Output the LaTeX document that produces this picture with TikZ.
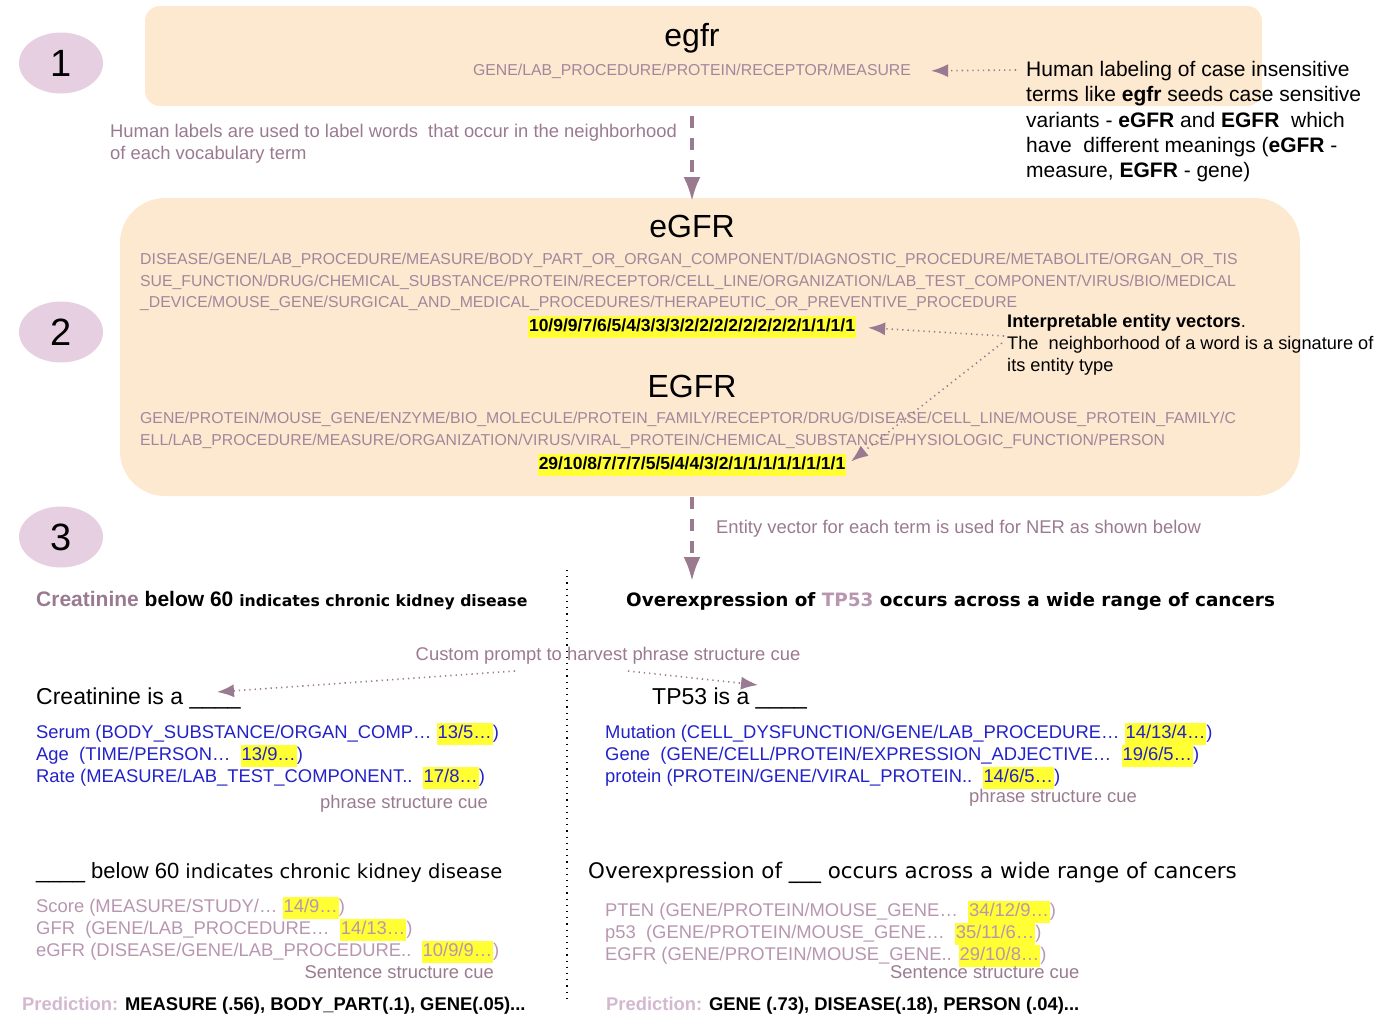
\documentclass[tikz,border=0pt]{standalone}
\usepackage{fontspec}
\setmainfont{Liberation Sans}
\newfontfamily\verdana{DejaVu Sans}
\usetikzlibrary{arrows.meta,positioning,shapes.geometric}

\definecolor{peach}{HTML}{FDE8D0}
\definecolor{lilac}{HTML}{E6CFE1}
\definecolor{mauve}{HTML}{9A7A90}
\definecolor{typegray}{HTML}{A4869C}
\definecolor{cueblue}{HTML}{2222C8}
\definecolor{softpink}{HTML}{B896B0}
\definecolor{palepink}{HTML}{D3B8CF}
\definecolor{hlyellow}{HTML}{FFFF33}

\newcommand{\pxsize}[2]{\fontsize{#1pt}{#2pt}\selectfont}
\newcommand{\hl}[1]{{\setlength{\fboxsep}{1pt}\colorbox{hlyellow}{\strut#1}}}

\tikzset{
  stagebox/.style={fill=peach, draw=none, inner sep=0, rounded corners=#1},
  stagenum/.style={ellipse, fill=lilac, minimum width=84pt, minimum height=61pt, inner sep=0, font=\pxsize{38}{40}},
  bigterm/.style={font=\pxsize{32}{34}, inner sep=0},
  typeline/.style={text=typegray, font=\pxsize{15.8}{18}, inner sep=0, anchor=west},
  note/.style={text=mauve, font=\pxsize{18.4}{22}, inner sep=0, anchor=west, align=left},
  vecnum/.style={font=\pxsize{17.5}{20}\bfseries, inner sep=0},
  cueline/.style={font=\pxsize{18.4}{20}, inner sep=0, anchor=west},
  blank/.style={font=\pxsize{23}{25}, inner sep=0, anchor=west},
  dotarrow/.style={mauve, line width=1.6pt, dash pattern=on 1.3pt off 4pt, -{Latex[length=17pt,width=13pt]}},
  dasharrow/.style={mauve, line width=3.5pt, dash pattern=on 12pt off 10pt, -{Latex[length=24pt,width=17pt]}},
}

\begin{document}
\begin{tikzpicture}[x=1pt,y=-1pt]
  \useasboundingbox (0,0) rectangle (1400,1031);

  % stage boxes
  \node[stagebox=15pt, minimum width=1117pt, minimum height=100pt] (box1) at (703.5,56) {};
  \node[stagebox=45pt, minimum width=1180pt, minimum height=298pt] (box2) at (710,347) {};

  \foreach \n/\y in {1/63, 2/332, 3/537} {
    \node[stagenum] (stage\n) at (61,\y) {\n};
  }

  % stage 1
  \node[bigterm] (egfr) at (692,38) {egfr};
  \node[typeline, anchor=center] (egfrtypes) at (692,71) {GENE/LAB\_PROCEDURE/PROTEIN/RECEPTOR/MEASURE};
  \node[font=\pxsize{21}{25.3}, inner sep=0, anchor=north west, align=left] (seednote) at (1026,61)
    {Human labeling of case insensitive\\
     terms like \textbf{egfr} seeds case sensitive\\
     variants - \textbf{eGFR} and \textbf{EGFR}\ \ which\\
     have\ \ different meanings (\textbf{eGFR} -\\
     measure, \textbf{EGFR} - gene)};
  \coordinate (seedfrom) at (1016,70);
  \draw[dotarrow, shorten >=20pt] (seedfrom) -- (egfrtypes.east);

  \node[note, anchor=north west] (labelnote) at (110,124)
    {Human labels are used to label words\ \ that occur in the neighborhood\\of each vocabulary term};
  \coordinate (down1) at (692,116);
  \coordinate (down1end) at (692,201);
  \draw[dasharrow] (down1) -- (down1end);

  % stage 2
  \node[bigterm] (eGFR) at (692,226) {eGFR};
  \node[typeline] (eGFRa) at (140,260) {DISEASE/GENE/LAB\_PROCEDURE/MEASURE/BODY\_PART\_OR\_ORGAN\_COMPONENT/DIAGNOSTIC\_PROCEDURE/METABOLITE/ORGAN\_OR\_TIS};
  \node[typeline] (eGFRb) at (140,282) {SUE\_FUNCTION/DRUG/CHEMICAL\_SUBSTANCE/PROTEIN/RECEPTOR/CELL\_LINE/ORGANIZATION/LAB\_TEST\_COMPONENT/VIRUS/BIO/MEDICAL};
  \node[typeline] (eGFRc) at (140,303) {\_DEVICE/MOUSE\_GENE/SURGICAL\_AND\_MEDICAL\_PROCEDURES/THERAPEUTIC\_OR\_PREVENTIVE\_PROCEDURE};
  \node[vecnum] (eGFRvec) at (692,327) {\hl{10/9/9/7/6/5/4/3/3/3/2/2/2/2/2/2/2/2/1/1/1/1}};

  \node[bigterm] (EGFR) at (692,386) {EGFR};
  \node[typeline] (EGFRa) at (140,419) {GENE/PROTEIN/MOUSE\_GENE/ENZYME/BIO\_MOLECULE/PROTEIN\_FAMILY/RECEPTOR/DRUG/DISEASE/CELL\_LINE/MOUSE\_PROTEIN\_FAMILY/C};
  \node[typeline] (EGFRb) at (140,441) {ELL/LAB\_PROCEDURE/MEASURE/ORGANIZATION/VIRUS/VIRAL\_PROTEIN/CHEMICAL\_SUBSTANCE/PHYSIOLOGIC\_FUNCTION/PERSON};
  \node[vecnum] (EGFRvec) at (692,465) {\hl{29/10/8/7/7/7/5/5/4/4/3/2/1/1/1/1/1/1/1/1}};

  \node[font=\pxsize{18.2}{22}, inner sep=0, anchor=north west, align=left] (vecnote) at (1007,314)
    {\textbf{Interpretable entity vectors}.\\
     The\ \ neighborhood of a word is a signature of\\
     its entity type};
  \coordinate (vecfrom) at (1004,336);
  \coordinate (vecfrom2) at (1002,343);
  \draw[dotarrow, shorten >=12pt] (vecfrom) -- (eGFRvec.east);
  \draw[dotarrow, shorten >=6pt] (vecfrom2) -- (EGFRvec.east);

  \coordinate (down2) at (692,497);
  \coordinate (down2end) at (692,581);
  \draw[dasharrow] (down2) -- (down2end);
  \node[note] (nernote) at (716,529) {Entity vector for each term is used for NER as shown below};

  % stage 3
  \coordinate (splittop) at (567,570);
  \coordinate (splitbot) at (567,1000);
  \draw[black, line width=1.4pt, dash pattern=on 1.2pt off 5pt] (splittop) -- (splitbot);

  \node[inner sep=0, anchor=west] (leftsent) at (36,601)
    {\pxsize{21}{23}\bfseries\textcolor{mauve}{Creatinine} below 60 {\verdana\pxsize{15.7}{20}\bfseries indicates chronic kidney disease}};
  \node[inner sep=0, anchor=west] (rightsent) at (626,601)
    {\verdana\pxsize{18.4}{20}\bfseries Overexpression of \textcolor{softpink}{TP53} occurs across a wide range of cancers};

  \node[note, anchor=center] (prompt) at (608,656) {Custom prompt to harvest phrase structure cue};
  \coordinate (promptL) at (515,671);
  \coordinate (promptLtip) at (217,692);
  \coordinate (promptR) at (628,671);
  \coordinate (promptRtip) at (758,685);
  \draw[dotarrow] (promptL) -- (promptLtip);
  \draw[dotarrow] (promptR) -- (promptRtip);

  \node[blank] (leftphrase) at (36,698) {Creatinine is a \_\_\_\_};
  \node[blank] (rightphrase) at (652,698) {TP53 is a \_\_\_\_};

  \foreach \name/\y/\txt in {
      serum/734/{Serum (BODY\_SUBSTANCE/ORGAN\_COMP… \hl{13/5…})},
      age/756/{Age\ \ (TIME/PERSON…\ \ \hl{13/9…})},
      rate/778/{Rate (MEASURE/LAB\_TEST\_COMPONENT..\ \ \hl{17/8…})}} {
    \node[cueline, text=cueblue] (\name) at (36,\y) {\txt};
  }
  \foreach \name/\y/\txt in {
      mutation/734/{Mutation (CELL\_DYSFUNCTION/GENE/LAB\_PROCEDURE… \hl{14/13/4…})},
      gene/756/{Gene\ \ (GENE/CELL/PROTEIN/EXPRESSION\_ADJECTIVE…\ \ \hl{19/6/5…})},
      protein/778/{protein (PROTEIN/GENE/VIRAL\_PROTEIN..\ \ \hl{14/6/5…})}} {
    \node[cueline, text=cueblue] (\name) at (605,\y) {\txt};
  }
  \node[note, anchor=east] (phraseL) at (488,804) {phrase structure cue};
  \node[note] (phraseR) at (969,798) {phrase structure cue};

  \node[blank, font=\pxsize{22}{25}] (leftslot) at (36,873) {\_\_\_\_ below 60 {\verdana\pxsize{19.5}{22}indicates chronic kidney disease}};
  \node[blank] (rightslot) at (588,873) {\verdana\pxsize{21.4}{23}Overexpression of \_\_\_ occurs across a wide range of cancers};

  \foreach \name/\y/\txt in {
      score/908/{Score (MEASURE/STUDY/… \hl{14/9…})},
      gfr/930/{GFR\ \ (GENE/LAB\_PROCEDURE…\ \ \hl{14/13…})},
      egfrcue/952/{eGFR (DISEASE/GENE/LAB\_PROCEDURE..\ \ \hl{10/9/9…})}} {
    \node[cueline, text=softpink] (\name) at (36,\y) {\txt};
  }
  \foreach \name/\y/\txt in {
      pten/912/{PTEN (GENE/PROTEIN/MOUSE\_GENE…\ \ \hl{34/12/9…})},
      pfiftythree/934/{p53\ \ (GENE/PROTEIN/MOUSE\_GENE…\ \ \hl{35/11/6…})},
      egfrgene/956/{EGFR (GENE/PROTEIN/MOUSE\_GENE.. \hl{29/10/8…})}} {
    \node[cueline, text=softpink] (\name) at (605,\y) {\txt};
  }
  \node[note, anchor=east] (sentL) at (494,972) {Sentence structure cue};
  \node[note] (sentR) at (890,972) {Sentence structure cue};

  \node[cueline, font=\pxsize{18.4}{20}\bfseries] (predL) at (22,1006)
    {\textcolor{palepink}{Prediction:} MEASURE (.56), BODY\_PART(.1), GENE(.05)...};
  \node[cueline, font=\pxsize{18.4}{20}\bfseries] (predR) at (606,1006)
    {\textcolor{palepink}{Prediction:} GENE (.73), DISEASE(.18), PERSON (.04)...};
\end{tikzpicture}
\end{document}
